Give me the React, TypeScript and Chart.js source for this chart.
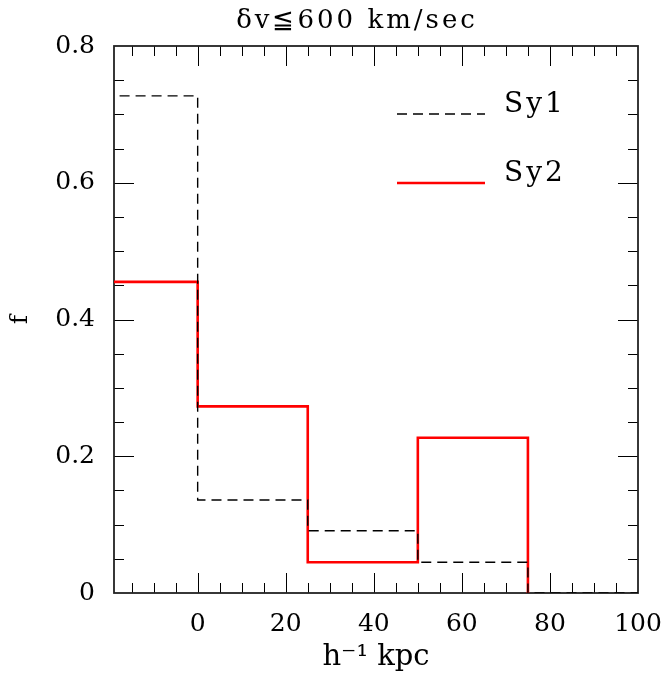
import React, { useEffect, useRef } from 'react';
import { Chart, registerables } from 'chart.js';

Chart.register(...registerables);

// ---- data ----
const binEdges = [-25, 0, 25, 50, 75, 100];
const sy1Values = [0.727, 0.136, 0.091, 0.045, 0];
const sy2Values = [0.455, 0.273, 0.045, 0.227];
const seriesLabels = ['Sy1', 'Sy2'];
const xTickValues = [0, 20, 40, 60, 80, 100];
const yTickValues = [0, 0.2, 0.4, 0.6, 0.8];
const xTickLabels = ['0', '20', '40', '60', '80', '100'];
const yTickLabels = ['0', '0.2', '0.4', '0.6', '0.8'];
const titleText = 'δv≦600 km/sec';
const xTitle = 'h⁻¹ kpc';
const yTitle = 'f';

const FONT = 'DejaVu Serif';

function histPoints(values: number[]) {
  const pts = values.map((v, i) => ({ x: binEdges[i], y: v }));
  pts.push({ x: binEdges[values.length], y: 0 });
  return pts;
}

const framePlugin = {
  id: 'frame',
  beforeDatasetsDraw(chart: any) {
    const { ctx, chartArea: a, scales } = chart;
    const xs = scales.x;
    const ys = scales.y;
    ctx.save();
    ctx.strokeStyle = '#000';
    ctx.lineWidth = 1;
    for (let v = -15; v <= 95; v += 5) {
      if (v < xs.min || v > xs.max) continue;
      const px = Math.round(xs.getPixelForValue(v)) + 0.5;
      const len = v % 20 === 0 ? 20 : 10;
      ctx.beginPath();
      ctx.moveTo(px, a.bottom);
      ctx.lineTo(px, a.bottom - len);
      ctx.moveTo(px, a.top);
      ctx.lineTo(px, a.top + len);
      ctx.stroke();
    }
    for (let k = 1; k < 16; k++) {
      const v = k * 0.05;
      const py = Math.round(ys.getPixelForValue(v)) + 0.5;
      const len = k % 4 === 0 ? 20 : 10;
      ctx.beginPath();
      ctx.moveTo(a.left, py);
      ctx.lineTo(a.left + len, py);
      ctx.moveTo(a.right, py);
      ctx.lineTo(a.right - len, py);
      ctx.stroke();
    }
    ctx.lineWidth = 1.8;
    ctx.strokeStyle = '#222';
    ctx.strokeRect(a.left, a.top, a.right - a.left, a.bottom - a.top);
    ctx.restore();
  },
};

const textPlugin = {
  id: 'titleAndLegend',
  afterDatasetsDraw(chart: any) {
    const { ctx, chartArea: a } = chart;
    // title
    ctx.save();
    ctx.fillStyle = '#000';
    ctx.font = `26px "${FONT}"`;
    (ctx as any).letterSpacing = '3px';
    ctx.textAlign = 'center';
    ctx.textBaseline = 'middle';
    ctx.fillText(titleText, a.left + 243, 21);
    ctx.restore();
    // legend
    const x0 = a.left + 283;
    const x1 = a.left + 371;
    const tx = a.left + 390;
    const rows = [a.top + 68, a.top + 137];
    chart.data.datasets.forEach((ds: any, i: number) => {
      const y = rows[i];
      ctx.save();
      ctx.strokeStyle = ds.borderColor;
      ctx.lineWidth = ds.borderWidth;
      ctx.setLineDash(ds.borderDash || []);
      ctx.beginPath();
      ctx.moveTo(x0, y);
      ctx.lineTo(x1, y);
      ctx.stroke();
      ctx.setLineDash([]);
      ctx.fillStyle = '#000';
      ctx.font = `28px "${FONT}"`;
      (ctx as any).letterSpacing = '3px';
      ctx.textBaseline = 'middle';
      ctx.textAlign = 'left';
      ctx.fillText(ds.label, tx, y - 9);
      ctx.restore();
    });
  },
};

export default function App() {
  const ref = useRef<HTMLCanvasElement>(null);

  useEffect(() => {
    if (!ref.current) return;
    const chart = new Chart(ref.current, {
      type: 'line',
      data: {
        datasets: [
          {
            label: seriesLabels[0],
            data: histPoints(sy1Values),
            borderColor: '#000000',
            borderWidth: 1.4,
            borderDash: [10, 6],
            stepped: 'before',
            pointRadius: 0,
            fill: false,
          },
          {
            label: seriesLabels[1],
            data: histPoints(sy2Values),
            borderColor: '#ff0000',
            borderWidth: 2.6,
            stepped: 'before',
            pointRadius: 0,
            fill: false,
          },
        ],
      },
      options: {
        animation: false,
        responsive: false,
        devicePixelRatio: 1,
        layout: { padding: { top: 46, right: 29, left: 0, bottom: 0 } },
        plugins: {
          legend: { display: false },
          tooltip: { enabled: false },
          title: { display: false },
        },
        scales: {
          x: {
            type: 'linear',
            min: -19,
            max: 100,
            grid: { display: false, drawTicks: false },
            border: { display: false },
            afterBuildTicks: (s: any) => {
              s.ticks = xTickValues.map((v) => ({ value: v }));
            },
            afterFit: (s: any) => {
              s.height = 82;
              s.paddingLeft = 0;
              s.paddingRight = 0;
            },
            ticks: {
              color: '#000',
              padding: 16,
              maxRotation: 0,
              font: { family: FONT, size: 25 },
              callback: (v: any) => {
                const i = xTickValues.indexOf(Number(v));
                return i >= 0 ? xTickLabels[i] : '';
              },
            },
            title: {
              display: true,
              text: xTitle,
              color: '#000',
              font: { family: FONT, size: 29 },
              padding: { top: 0, bottom: 0 },
            },
          },
          y: {
            type: 'linear',
            min: 0,
            max: 0.8,
            grid: { display: false, drawTicks: false },
            border: { display: false },
            afterBuildTicks: (s: any) => {
              s.ticks = yTickValues.map((v) => ({ value: v }));
            },
            afterFit: (s: any) => {
              s.width = 114;
              s.paddingTop = 0;
              s.paddingBottom = 0;
            },
            ticks: {
              color: '#000',
              padding: 19,
              font: { family: FONT, size: 25 },
              callback: (v: any) => {
                const i = yTickValues.findIndex((t) => Math.abs(t - Number(v)) < 1e-9);
                return i >= 0 ? yTickLabels[i] : '';
              },
            },
            title: {
              display: true,
              text: yTitle,
              color: '#000',
              font: { family: FONT, size: 25 },
              padding: { top: 5, bottom: 0 },
            },
          },
        },
      },
      plugins: [framePlugin, textPlugin],
    });
    return () => chart.destroy();
  }, []);

  return (
    <div style={{ position: 'absolute', left: 0, top: 0, width: 667, height: 675, background: '#fff' }}>
      <canvas ref={ref} width={667} height={675} style={{ display: 'block' }} />
    </div>
  );
}
